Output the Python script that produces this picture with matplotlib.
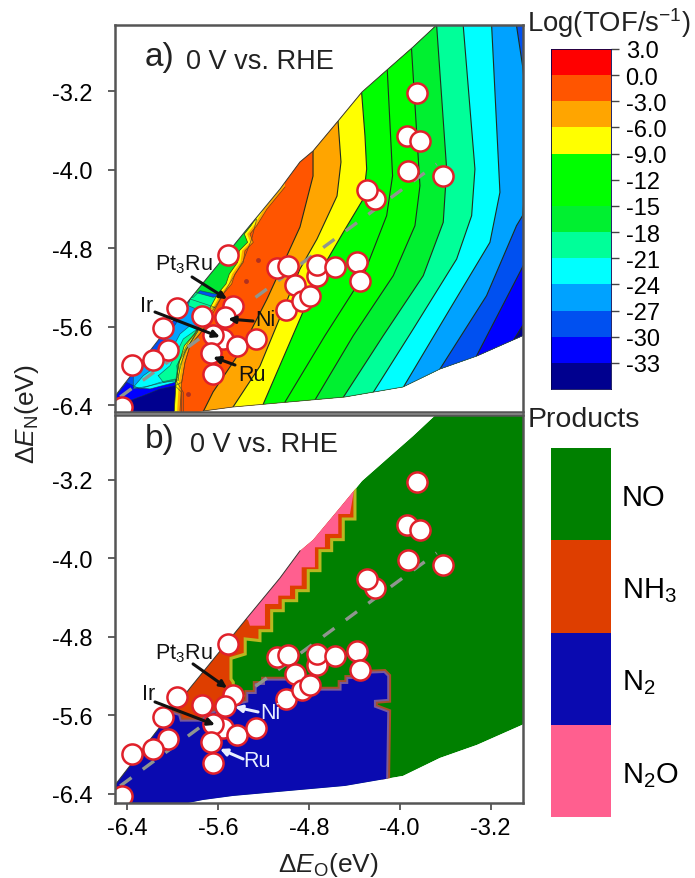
import numpy as np
import matplotlib
matplotlib.use("Agg")
import matplotlib.pyplot as plt
from matplotlib.patches import Polygon

plt.rcParams["font.family"] = ["Liberation Sans", "DejaVu Sans"]
plt.rcParams["mathtext.fontset"] = "custom"
plt.rcParams["mathtext.rm"] = "Liberation Sans"
plt.rcParams["mathtext.it"] = "Liberation Sans:italic"
plt.rcParams["mathtext.default"] = "regular"
plt.rcParams["text.color"] = "#222222"

# scan points (Delta E_O, Delta E_N)
metal_x = [-5.509, -5.465, -5.083, -4.981, -4.922, -5.001, -5.958, -5.738, -6.081, -5.538,
           -5.553, -5.641, -5.430, -5.268, -5.664, -6.037, -6.169, -6.359, -5.641, -6.447,
           -3.851, -3.934, -3.822, -3.925, -3.617, -4.218, -4.291, -4.731, -4.725, -4.570,
           -4.374, -4.350, -4.863, -4.790]
metal_y = [-4.871, -5.387, -5.007, -4.980, -5.173, -5.431, -5.414, -5.496, -5.618, -5.506,
           -5.727, -5.686, -5.802, -5.727, -5.873, -5.839, -5.941, -5.992, -6.084, -6.423,
           -3.220, -3.655, -3.706, -4.012, -4.063, -4.300, -4.205, -5.082, -4.973, -4.997,
           -4.939, -5.140, -5.337, -5.286]
scaling_x = [-6.46, -3.675]
scaling_y = [-6.318, -3.944]

# outline of the computed region
hull_x = [-6.6, -6.5, -5.846, -5.344, -5.054, -4.878, -4.763, -4.543, -4.332, -4.103, -3.883,
          -3.65, -2.85, -2.85, -2.924, -3.32, -3.646, -3.971, -4.482, -4.878, -5.467, -5.731,
          -5.9, -6.6]
hull_y = [-6.4, -6.3, -5.320, -4.606, -4.199, -3.923, -3.811, -3.506, -3.210, -2.976, -2.752,
          -2.5, -2.5, -5.65, -5.697, -5.90, -6.033, -6.216, -6.318, -6.359, -6.42, -6.461,
          -6.5, -6.5]

# activity contours, top to bottom
c0_x = np.array([-5.01, -5.168, -5.259, -5.318, -5.289, -5.362, -5.377, -5.450, -5.479, -5.553,
                 -5.641, -5.758, -5.846, -5.890, -5.919, -5.934])
c0_y = np.array([-4.178, -4.402, -4.572, -4.657, -4.742, -4.827, -4.946, -5.065, -5.166, -5.268,
                 -5.455, -5.676, -5.795, -5.965, -6.169, -6.457])
c3_x = [-4.763, -4.763, -4.878, -5.168, -5.406, -5.643, -5.731]
c3_y = [-3.811, -4.066, -4.586, -5.320, -5.860, -6.267, -6.471]
c6_x = [-4.543, -4.517, -4.552, -4.728, -4.878, -5.230, -5.467]
c6_y = [-3.506, -3.923, -4.270, -4.708, -5.014, -6.003, -6.420]
c9_x = [-4.335, -4.306, -4.291, -4.321, -4.497, -4.702, -4.878, -5.201]
c9_y = [-3.220, -3.655, -3.995, -4.300, -4.640, -5.048, -5.523, -6.39]
c12_x = [-4.110, -4.063, -4.115, -4.321, -4.658, -5.01]
c12_y = [-2.976, -4.063, -4.470, -5.082, -5.693, -6.37]
c15_x = [-3.896, -3.822, -3.866, -4.057, -4.409, -4.746]
c15_y = [-2.772, -4.165, -4.572, -5.082, -5.693, -6.349]
c18_x = [-3.675, -3.587, -3.617, -3.793, -4.145, -4.497]
c18_y = [-2.534, -3.995, -4.538, -5.082, -5.693, -6.322]
c21_x = [-3.441, -3.338, -3.367, -3.499, -3.881, -4.233]
c21_y = [-2.534, -3.995, -4.470, -4.912, -5.625, -6.271]
c24_x = [-3.191, -3.118, -3.206, -3.558, -3.969]
c24_y = [-2.534, -4.232, -4.742, -5.421, -6.220]
c27_x = [-2.972, -2.919, -2.854, -2.919, -2.972, -3.236, -3.646]
c27_y = [-2.534, -2.942, -3.655, -4.470, -4.572, -5.286, -6.033]
c30_x = [-2.825, -2.928, -3.323]
c30_y = [-4.776, -5.014, -5.897]
c33_x = [-2.85, -2.919, -3.001]
c33_y = [-5.49, -5.591, -5.744]

# low-activity pockets at the lower left
navy_x = [-6.403, -6.374, -6.257, -6.110, -5.978, -5.919, -5.919]
navy_y = [-6.457, -6.355, -6.304, -6.236, -6.203, -6.270, -6.474]
blue_x = [-6.521, -6.403, -6.286, -6.110, -5.978, -5.905, -5.905, -6.521]
blue_y = [-6.338, -6.169, -6.236, -6.169, -6.135, -6.270, -6.491, -6.491]
sky_x = [-6.345, -6.139, -5.963, -5.846, -5.626, -5.758, -5.875, -5.963, -5.949, -6.198, -6.345]
sky_y = [-6.101, -5.863, -5.557, -5.319, -5.404, -5.591, -5.829, -5.999, -6.135, -6.203, -6.236]
cyan_x = [-6.345, -6.257, -6.051, -5.934, -5.846, -5.773, -5.890, -5.949, -5.978, -6.198]
cyan_y = [-6.220, -6.101, -5.931, -5.676, -5.591, -5.642, -5.846, -6.101, -6.169, -6.236]
teal_x = [-6.125, -6.022, -5.905, -5.802, -5.773, -5.875, -5.934, -5.949, -6.081]
teal_y = [-6.101, -5.999, -5.727, -5.642, -5.642, -5.829, -5.999, -6.152, -6.169]
strip_x = [-5.978, -5.949, -5.861, -5.758, -5.700, -5.846, -5.890, -5.919]
strip_y = [-6.203, -5.965, -5.761, -5.608, -5.591, -5.795, -5.965, -6.169]
top_green_x = [-5.846, -5.611, -5.347, -5.259, -5.303, -5.377, -5.465, -5.553, -5.626, -5.758, -5.817]
top_green_y = [-5.302, -4.980, -4.589, -4.504, -4.708, -4.929, -5.098, -5.268, -5.268, -5.234, -5.302]
top_teal_x = [-5.846, -5.802, -5.641, -5.553, -5.626, -5.758, -5.861]
top_teal_y = [-5.319, -5.251, -5.302, -5.268, -5.404, -5.438, -5.387]
spot_x = [-5.245, -5.356, -5.861]
spot_y = [-4.918, -5.132, -6.287]

# product regions
nh3_x = [-4.394, -4.394, -4.497, -4.497, -4.599, -4.599, -4.702, -4.702, -4.805, -4.805, -4.907,
         -4.907, -5.025, -5.025, -5.127, -5.127, -5.230, -5.230, -5.36, -5.36, -5.485, -5.485,
         -5.465, -5.465, -5.96, -6.2, -4.5]
nh3_y = [-3.292, -3.598, -3.598, -3.808, -3.808, -3.920, -3.920, -4.124, -4.124, -4.328, -4.328,
         -4.430, -4.430, -4.532, -4.532, -4.736, -4.736, -4.837, -4.82, -4.974, -5.018, -5.228,
         -5.262, -5.6, -5.7, -5.4, -3.2]
n2o_x = [-4.403, -4.438, -4.541, -4.541, -4.658, -4.658, -4.746, -4.746, -4.863, -4.863, -4.966,
         -4.966, -5.069, -5.069, -5.186, -5.186, -5.318, -5.333, -5.4, -4.45]
n2o_y = [-3.309, -3.547, -3.547, -3.750, -3.750, -3.886, -3.886, -4.090, -4.090, -4.277, -4.277,
         -4.379, -4.379, -4.464, -4.464, -4.685, -4.685, -4.634, -4.55, -3.25]
n2_x = [-5.949, -5.934, -5.743, -5.670, -5.553, -5.479, -5.333, -5.333, -5.259, -5.259, -5.186,
        -5.186, -4.849, -4.849, -4.512, -4.512, -4.453, -4.453, -4.350, -4.350, -4.139, -4.110,
        -4.110, -4.227, -4.227, -4.110, -4.122, -4.122, -6.6, -6.6, -6.1]
n2_y = [-5.602, -5.663, -5.663, -5.585, -5.551, -5.507, -5.466, -5.381, -5.381, -5.289, -5.289,
        -5.245, -5.245, -5.347, -5.347, -5.279, -5.279, -5.228, -5.228, -5.177, -5.167, -5.201,
        -5.432, -5.442, -5.517, -5.568, -6.451, -6.6, -6.6, -6.3, -5.55]

# colour bars
tof_levels = [3, 0, -3, -6, -9, -12, -15, -18, -21, -24, -27, -30, -33]
tof_labels = ["3.0", "0.0", "-3.0", "-6.0", "-9.0", "-12", "-15", "-18", "-21", "-24", "-27", "-30", "-33"]
tof_colors = ["#ff0000", "#ff5500", "#ffa500", "#ffff00", "#00ff00", "#00ff00", "#00f030", "#00ff99",
              "#00ffff", "#00a2ff", "#0050f0", "#0000ff", "#00008f"]
products = ["NO", "NH$_3$", "N$_2$", "N$_2$O"]
product_colors = ["#008000", "#de3e00", "#0a0ab0", "#ff5f8f"]

xticks = [-6.4, -5.6, -4.8, -4.0, -3.2]
yticks = [-6.4, -5.6, -4.8, -4.0, -3.2]
tick_text = ["-6.4", "-5.6", "-4.8", "-4.0", "-3.2"]

W, H = 695, 879
fig = plt.figure(figsize=(W / 100, H / 100), dpi=100)
ax_a = fig.add_axes([115 / W, 1 - 413 / H, 408 / W, 387 / H])
ax_b = fig.add_axes([115 / W, 1 - 804 / H, 408 / W, 388 / H])
ax_c = fig.add_axes([551 / W, 1 - 390 / H, 60 / W, 340 / H])
ax_p = fig.add_axes([551 / W, 1 - 818 / H, 60 / W, 369 / H])

for ax in (ax_a, ax_b):
    ax.set_xlim(-6.506, -2.915)
    ax.set_xticks(xticks)
    ax.set_yticks(yticks)
    ax.set_yticklabels(tick_text, fontsize=17)
    ax.tick_params(length=5, width=1.2, color="#444444")
    ax.tick_params(axis="y", pad=11)
    ax.tick_params(axis="x", pad=5)
    for s in ax.spines.values():
        s.set_linewidth(1.8)
        s.set_color("#555555")
        s.set_zorder(10)
ax_a.set_ylim(-6.471, -2.527)
ax_b.set_ylim(-6.492, -2.538)
ax_a.set_xticks([])
ax_b.set_xticklabels(tick_text, fontsize=17)


def clipped(ax, artists):
    hull = Polygon(np.column_stack([hull_x, hull_y]), closed=True, transform=ax.transData, fc="none", ec="none")
    ax.add_patch(hull)
    for a in artists:
        a.set_clip_path(hull)


def fill_right(ax, xs, ys, color):
    # everything to the right of a contour, the next band paints over it
    xs, ys = list(xs), list(ys)
    px = [xs[0]] + xs + [xs[-1], -2.0, -2.0]
    py = [-2.0] + ys + [-7.0, -7.0, -2.0]
    return ax.fill(px, py, color=color, lw=0)


def pocket(ax, xs, ys, color):
    art = ax.fill(xs, ys, color=color, lw=0)
    art += ax.plot(list(xs) + [xs[0]], list(ys) + [ys[0]], color="#1a3a3a", lw=0.5, alpha=0.7)
    return art


# panel a
arts = ax_a.fill(hull_x, hull_y, color="#0050f0", lw=0)
arts += pocket(ax_a, blue_x, blue_y, "#0000ff")
arts += pocket(ax_a, navy_x, navy_y, "#00008f")
arts += pocket(ax_a, sky_x, sky_y, "#00a2ff")
arts += pocket(ax_a, cyan_x, cyan_y, "#00ffff")
arts += pocket(ax_a, teal_x, teal_y, "#00ff99")
arts += pocket(ax_a, strip_x, strip_y, "#00e633")
arts += pocket(ax_a, top_green_x, top_green_y, "#00e633")
arts += pocket(ax_a, top_teal_x, top_teal_y, "#00ff99")
arts += fill_right(ax_a, c0_x - 0.05, c0_y, "#ffff00")
arts += fill_right(ax_a, c0_x - 0.025, c0_y, "#ffa500")
arts += fill_right(ax_a, c0_x, c0_y, "#ff5500")
bands = [(c3_x, c3_y, "#ffa500"), (c6_x, c6_y, "#ffff00"), (c9_x, c9_y, "#00ff00"),
         (c12_x, c12_y, "#00ff00"), (c15_x, c15_y, "#00f030"), (c18_x, c18_y, "#00ff99"),
         (c21_x, c21_y, "#00ffff"), (c24_x, c24_y, "#00a2ff"), (c27_x, c27_y, "#0050f0"),
         (c30_x, c30_y, "#0000ff"), (c33_x, c33_y, "#00008f")]
for bx, by, col in bands:
    arts += fill_right(ax_a, bx, by, col)
for bx, by, col in bands:
    arts += ax_a.plot(bx, by, color="#1e2e1e", lw=0.8)
arts += ax_a.plot(c0_x - 0.05, c0_y, color="#3a3a10", lw=0.5)
arts += ax_a.plot(c0_x, c0_y, color="#7a3a10", lw=0.5)
arts += ax_a.plot(spot_x, spot_y, "o", color="#b03020", ms=3.5, mew=0)
clipped(ax_a, arts)
ax_a.plot(hull_x[1:12], hull_y[1:12], color="#3a3a3a", lw=0.7, zorder=2)
ax_a.plot(hull_x[13:22], hull_y[13:22], color="#3a3a3a", lw=0.5, zorder=2)

# panel b
arts = ax_b.fill(hull_x, hull_y, color=product_colors[0], lw=0)
arts += ax_b.fill(nh3_x, nh3_y, fc=product_colors[1], ec="#b8b820", lw=2.2)
arts += ax_b.fill(n2o_x, n2o_y, color=product_colors[3], lw=0)
arts += ax_b.fill(n2_x, n2_y, fc="none", ec="#a5502a", lw=5.6)
arts += ax_b.fill(n2_x, n2_y, fc="none", ec="#7a5a9a", lw=2.8)
arts += ax_b.fill(n2_x, n2_y, color=product_colors[2], lw=0)
clipped(ax_b, arts)
ax_b.plot(hull_x[1:6], hull_y[1:6], color="#3a3a3a", lw=0.7, zorder=2)

for ax in (ax_a, ax_b):
    ax.plot(scaling_x, scaling_y, color="#8f958f", lw=2.4, dashes=(4.2, 4.2), zorder=3)
    ax.plot(metal_x, metal_y, "o", ms=14.5, mfc="white", mec="#e0202a", mew=1.8, ls="none", zorder=4)

ax_a.text(-6.242, -2.843, "a)", fontsize=24, va="center")
ax_a.text(-5.881, -2.894, "0 V vs. RHE", fontsize=19.5, va="center")
ax_b.text(-6.242, -2.782, "b)", fontsize=24, va="center")
ax_b.text(-5.846, -2.833, "0 V vs. RHE", fontsize=19.5, va="center")


def tag(ax, label, where, start, end, color):
    ax.text(where[0], where[1], label, fontsize=15.5, color=color, ha="center", va="center", zorder=6)
    ax.annotate("", xy=end, xytext=start, zorder=6,
                arrowprops=dict(arrowstyle="-|>", color=color, lw=2.2, mutation_scale=10, shrinkA=0, shrinkB=0))


tag(ax_a, "Pt$_3$Ru", (-5.898, -4.963), (-5.828, -5.095), (-5.52, -5.32), "#111111")
tag(ax_a, "Ir", (-6.224, -5.381), (-6.154, -5.452), (-5.582, -5.707), "#111111")
tag(ax_a, "Ni", (-5.186, -5.533), (-5.291, -5.544), (-5.511, -5.523), "#111111")
tag(ax_a, "Ru", (-5.30, -6.084), (-5.45, -5.992), (-5.643, -5.911), "#111111")
tag(ax_b, "Pt$_3$Ru", (-5.898, -4.963), (-5.819, -5.075), (-5.52, -5.32), "#111111")
tag(ax_b, "Ir", (-6.206, -5.381), (-6.154, -5.462), (-5.626, -5.696), "#111111")
tag(ax_b, "Ni", (-5.142, -5.574), (-5.247, -5.564), (-5.45, -5.513), "#e8eeff")
tag(ax_b, "Ru", (-5.256, -6.063), (-5.379, -6.043), (-5.582, -5.941), "#e8eeff")

fig.text(27 / W, 1 - 414 / H, r"$\Delta\mathit{E}_{N}$(eV)", fontsize=19, rotation=90, ha="center", va="center")
fig.text(328 / W, 1 - 865 / H, r"$\Delta\mathit{E}_{O}$(eV)", fontsize=19, ha="center", va="center")

# TOF colour bar
ax_c.bar(0, [-3] * len(tof_levels), bottom=tof_levels, width=1, color=tof_colors)
ax_c.set_xlim(-0.5, 0.5)
ax_c.set_ylim(-36, 3)
ax_c.set_xticks([])
ax_c.yaxis.tick_right()
ax_c.set_yticks(tof_levels)
ax_c.set_yticklabels(tof_labels, fontsize=17)
ax_c.tick_params(length=5.5, width=1, color="#444444", pad=5)
for s in ax_c.spines.values():
    s.set_linewidth(0.6)
    s.set_color("#000050")
fig.text(527 / W, 1 - 23 / H, "Log(TOF/s$^{-1}$)", fontsize=19.8, ha="left", va="center")

# product bar
ypos = np.arange(len(products))
ax_p.barh(ypos, [1] * len(products), height=1, left=0, color=product_colors)
ax_p.set_xlim(0, 1)
ax_p.set_ylim(3.5, -0.5)
ax_p.set_xticks([])
ax_p.yaxis.tick_right()
ax_p.set_yticks(ypos)
ax_p.set_yticklabels(products, fontsize=21)
ax_p.tick_params(length=0, pad=8)
for s in ax_p.spines.values():
    s.set_visible(False)
fig.text(528 / W, 1 - 420 / H, "Products", fontsize=20.5, ha="left", va="center")

fig.savefig("out.png", dpi=100)
